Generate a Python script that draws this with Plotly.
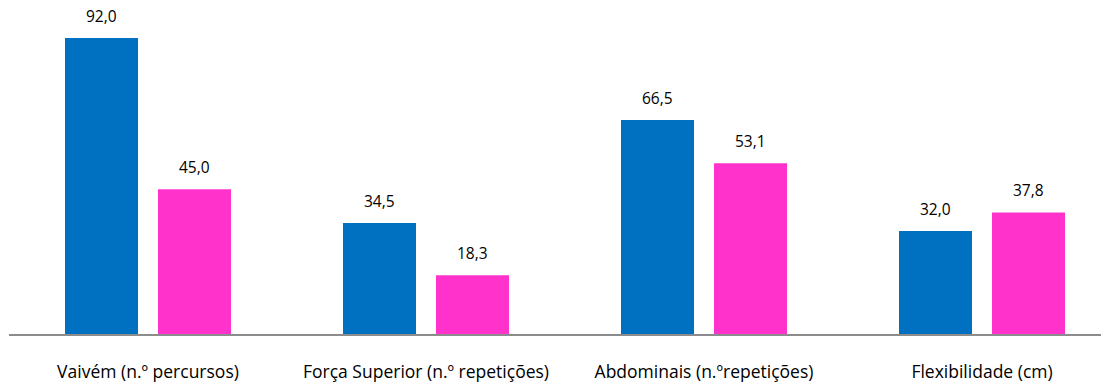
import plotly.graph_objects as go

categories = ["Vaivém (n.º percursos)", "Força Superior (n.º repetições)",
              "Abdominais (n.ºrepetições)", "Flexibilidade (cm)"]
serie_a = [92.0, 34.5, 66.5, 32.0]
serie_b = [45.0, 18.3, 53.1, 37.8]

blue = "#0070C0"
pink = "#FF33CC"
px_per_cat = 278.0
bar_w = 73 / px_per_cat
font_family = "Open Sans, Noto Sans, sans-serif"

fig = go.Figure()
for vals, color, off in [(serie_a, blue, -83 / px_per_cat), (serie_b, pink, 10 / px_per_cat)]:
    fig.add_trace(go.Bar(
        x=list(range(len(categories))), y=vals,
        width=bar_w, offset=off,
        marker=dict(color=color, line=dict(width=0)),
        showlegend=False, hoverinfo="skip",
    ))
    for i, v in enumerate(vals):
        fig.add_annotation(
            x=i + off + bar_w / 2, y=v, xref="x", yref="y",
            text=f"{v:.1f}".replace(".", ","),
            showarrow=False, yanchor="bottom", yshift=9,
            font=dict(family=font_family, size=15.5, color="#000000"),
        )

fig.update_layout(
    width=1101, height=382,
    margin=dict(l=9, r=0, t=0, b=48, autoexpand=False),
    paper_bgcolor="white", plot_bgcolor="white",
    barmode="overlay",
    xaxis=dict(
        range=[-0.5, -0.5 + 1092 / px_per_cat],
        tickmode="array", tickvals=list(range(len(categories))), ticktext=categories,
        showgrid=False, zeroline=False, automargin=False,
        showline=True, linecolor="#8c8c8c", linewidth=2,
        ticks="", ticklabelstandoff=21,
        tickfont=dict(family=font_family, size=17.5, color="#000000"),
    ),
    yaxis=dict(range=[0, 334 / 3.217], visible=False, showgrid=False, zeroline=False,
               automargin=False),
)

fig.write_html("out.html")
